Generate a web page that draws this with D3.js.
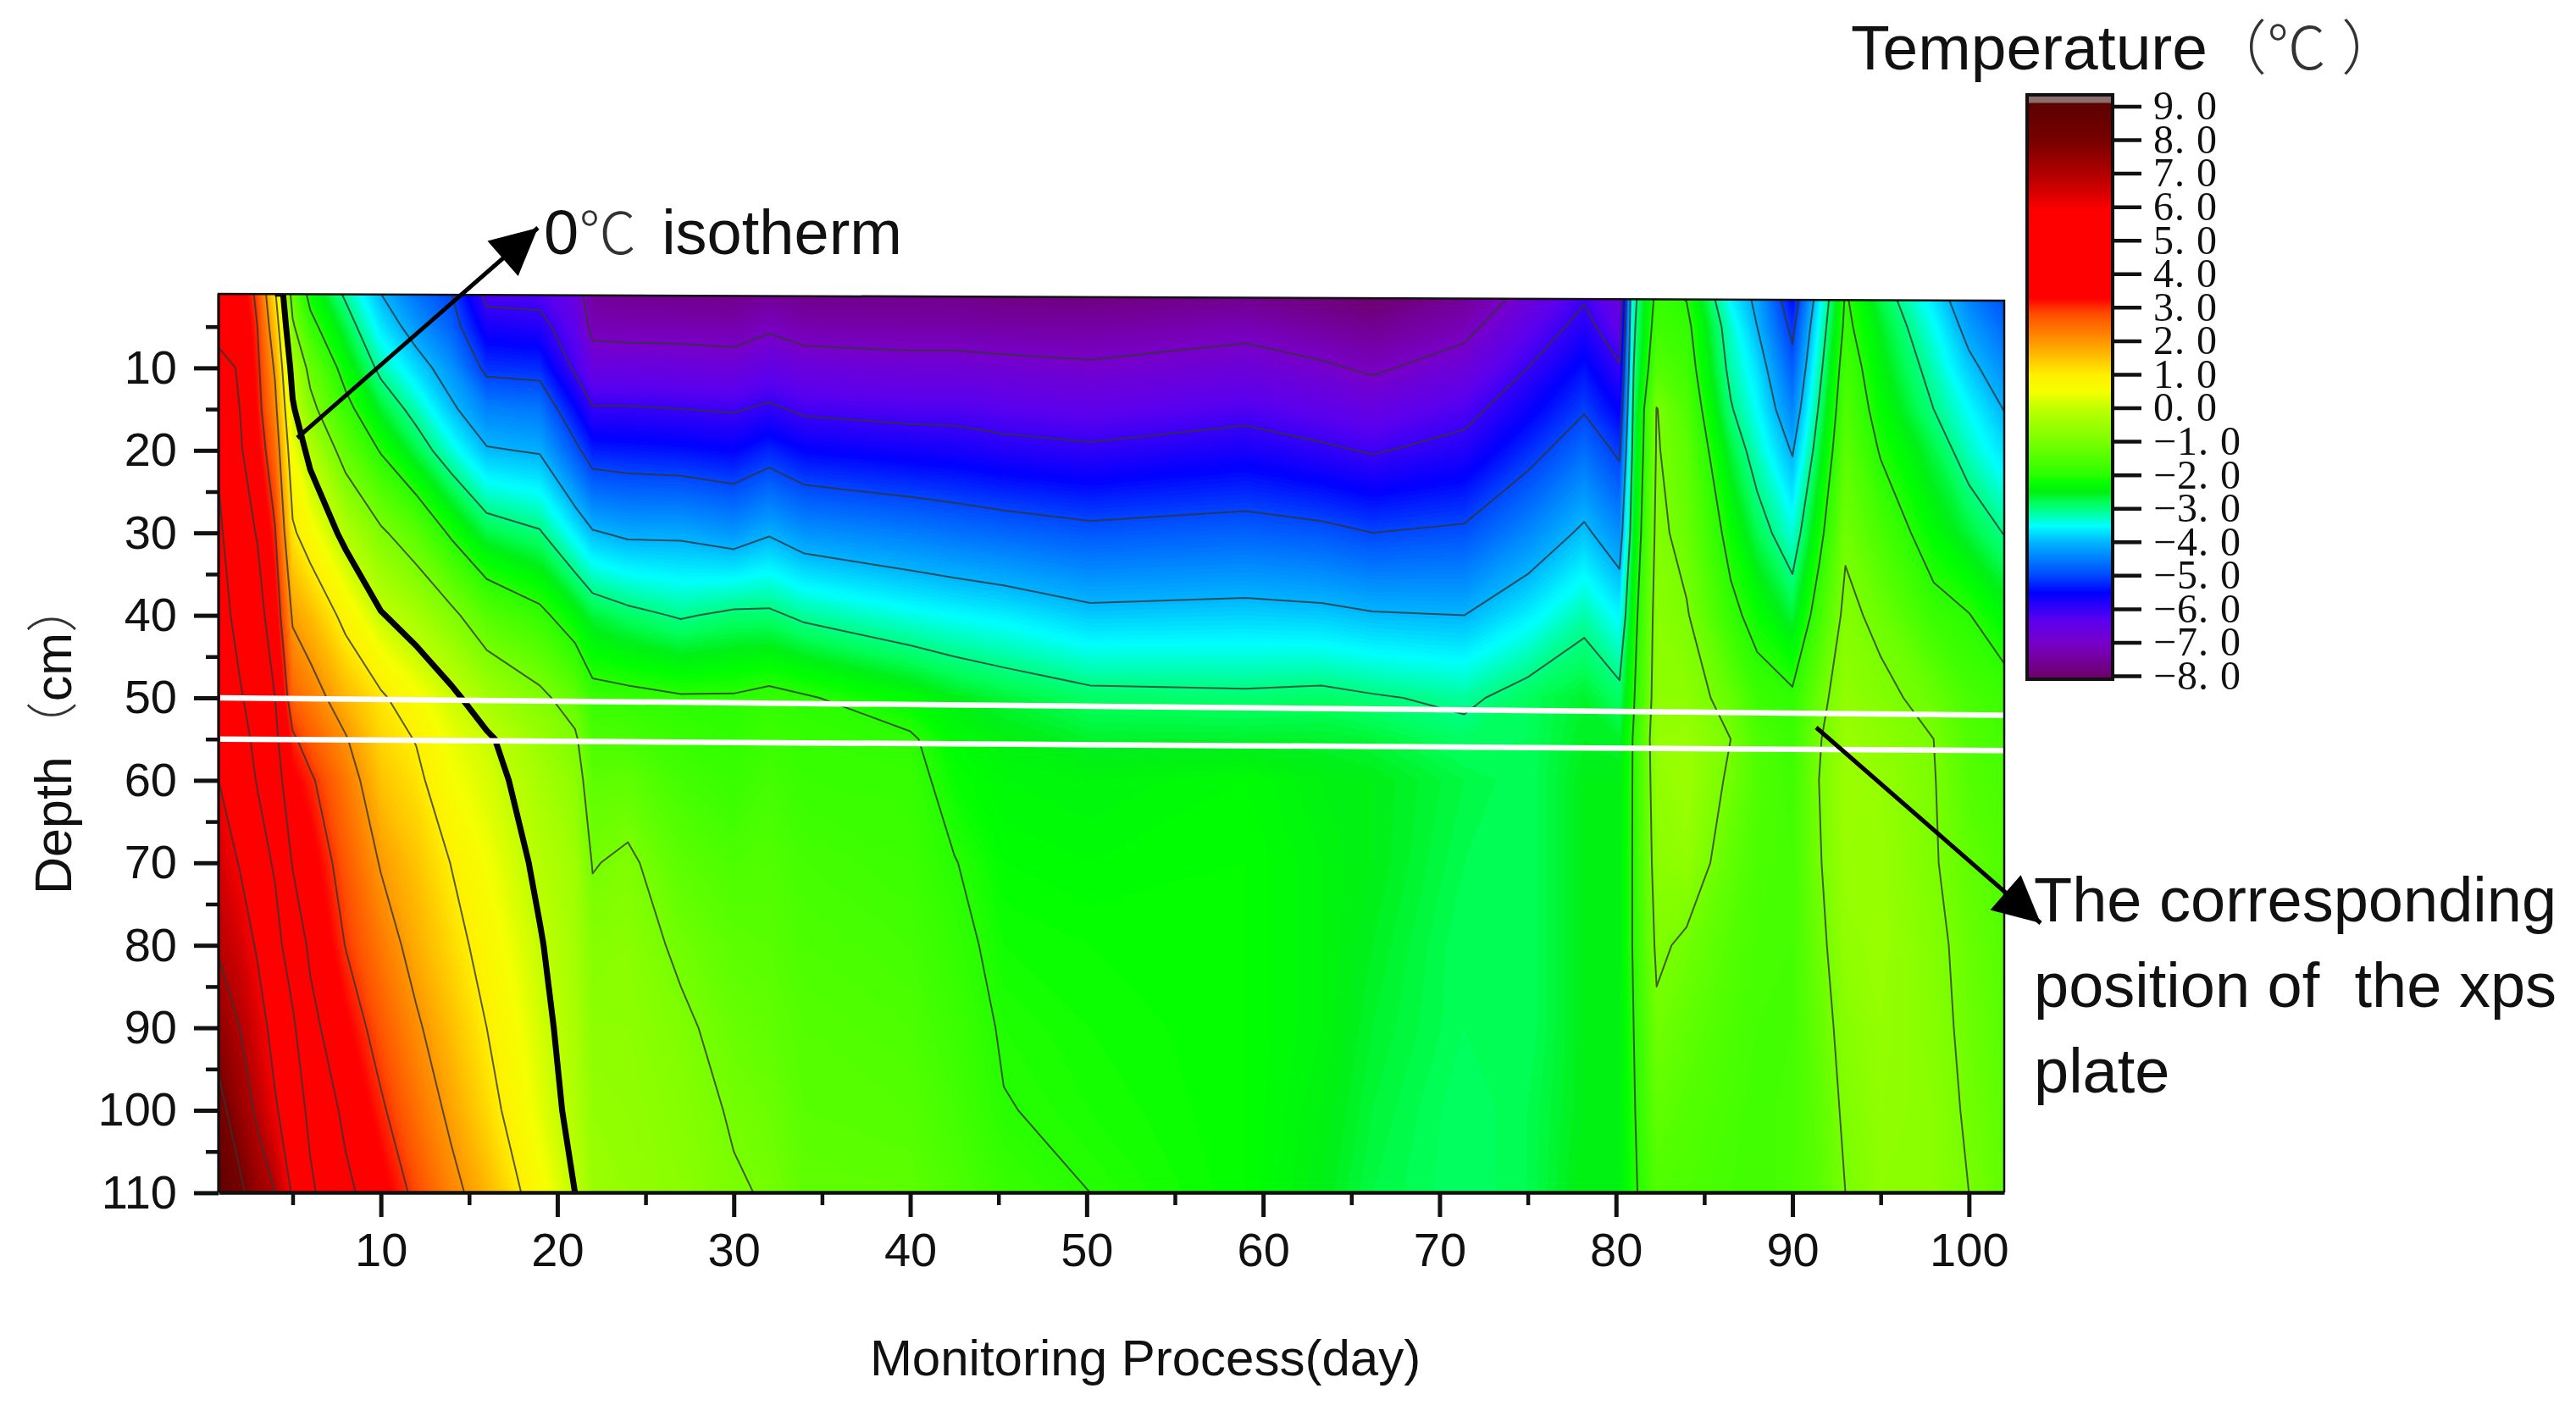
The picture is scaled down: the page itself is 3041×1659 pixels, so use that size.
<!DOCTYPE html>
<html><head><meta charset="utf-8">
<style>
html,body{margin:0;padding:0;background:#fff}
svg{display:block;filter:blur(0.7px)}
text{font-family:"Liberation Sans",Arial,sans-serif;fill:#111}
.cjk{font-family:"Noto Sans CJK SC";font-weight:300;fill:#333}
</style>
<script src="https://cdn.jsdelivr.net/npm/d3@7"></script>
</head><body>
<script>
// ---- data: temperature (deg C) at each depth, one list per monitoring day ----
const depths = [1,5,10,15,20,30,40,50,55,60,70,80,90,100,110];
const days = [0.8,2,3,4,5,6,8,10,12,14,16,19,21,22,24,27,30,32,34,40,42.5,45.3,50.2,59,63.3,66.2,71.4,75,78.2,80.2,81,82.3,84,86.5,88,90,91.5,93,95,98,100,102];
const d01 = [3.2,3.8,4.2,4.5,4.9,5.15,5.4,5.7,5.9,6.0,6.5,6.9,7.6,8.3,9.0];
const d02 = [3.6,3.85,3.95,4.0,4.1,4.4,4.7,5.1,5.3,5.5,5.95,6.5,7.0,7.5,8.2];
const d03 = [2.85,3.0,3.15,3.25,3.45,3.95,4.35,4.6,4.8,4.95,5.4,5.9,6.4,6.85,7.5];
const d04 = [1.1,1.5,1.9,2.2,2.5,3.05,3.5,4.0,4.2,4.4,4.9,5.3,5.7,6.1,7.0];
const d05 = [-1.3,-0.9,-0.3,0.1,0.5,1.1,1.9,2.6,3.1,3.4,3.95,4.55,5.15,5.5,5.9];
const d06 = [-2.2,-1.8,-1.2,-0.8,-0.2,0.65,1.6,2.3,2.7,3.1,3.5,3.85,4.25,4.8,5.15];
const d08 = [-3.1,-2.7,-2.25,-1.8,-1.3,-0.2,0.8,1.65,2.05,2.35,2.7,2.98,3.4,3.8,4.2];
const d10 = [-4.0,-3.65,-3.15,-2.6,-2.05,-0.9,0.05,1.1,1.3,1.5,1.95,2.35,2.72,3.1,3.5];
const d12 = [-4.6,-4.25,-3.75,-3.2,-2.7,-1.4,-0.35,0.6,0.97,1.15,1.5,1.75,2.1,2.45,2.85];
const d14 = [-5.0,-4.75,-4.3,-3.9,-3.35,-2.1,-0.85,0.15,0.4,0.55,0.98,1.25,1.55,1.85,2.2];
const d16 = [-6.2,-5.7,-5.15,-4.45,-3.95,-2.7,-1.45,-0.38,0.1,0.25,0.5,0.75,1.0,1.25,1.65];
const d19 = [-6.2,-5.8,-5.2,-4.55,-4.05,-2.95,-1.85,-0.85,-0.55,-0.35,-0.13,0.05,0.2,0.35,0.65];
const d21 = [-6.6,-6.4,-6.1,-5.45,-4.85,-3.6,-2.35,-1.3,-0.9,-0.7,-0.45,-0.4,-0.3,-0.2,0.0];
const d22 = [-7.5,-7.2,-6.6,-5.95,-5.3,-3.95,-2.65,-1.8,-1.55,-1.35,-1.03,-0.8,-0.7,-0.6,-0.5];
const d24 = [-7.6,-7.25,-6.6,-5.95,-5.35,-4.1,-2.85,-1.85,-1.6,-1.3,-0.9,-0.75,-0.7,-0.65,-0.6];
const d27 = [-7.7,-7.25,-6.65,-6.0,-5.4,-4.1,-3.05,-1.95,-1.8,-1.65,-1.35,-1.1,-0.9,-0.8,-0.75];
const d30 = [-7.7,-7.3,-6.7,-6.05,-5.5,-4.27,-2.9,-1.95,-1.9,-1.8,-1.55,-1.35,-1.2,-1.05,-0.95];
const d32 = [-7.55,-7.1,-6.5,-5.9,-5.25,-4.05,-2.9,-1.85,-1.75,-1.65,-1.5,-1.4,-1.3,-1.15,-1.04];
const d34 = [-7.7,-7.3,-6.65,-6.1,-5.5,-4.3,-3.1,-1.95,-1.85,-1.8,-1.65,-1.55,-1.45,-1.4,-1.3];
const d40 = [-7.7,-7.35,-6.75,-6.2,-5.65,-4.5,-3.4,-2.3,-1.93,-1.82,-1.75,-1.65,-1.55,-1.45,-1.35];
const d42 = [-7.7,-7.35,-6.75,-6.2,-5.7,-4.6,-3.5,-2.5,-2.3,-2.2,-1.98,-1.85,-1.75,-1.65,-1.55];
const d45 = [-7.8,-7.4,-6.8,-6.3,-5.8,-4.7,-3.6,-2.65,-2.45,-2.35,-2.25,-2.15,-2.05,-1.98,-1.8];
const d50 = [-7.85,-7.4,-6.9,-6.4,-5.9,-4.85,-3.85,-2.85,-2.6,-2.4,-2.3,-2.2,-2.15,-2.1,-2.0];
const d59 = [-7.7,-7.2,-6.7,-6.2,-5.7,-4.75,-3.8,-2.9,-2.6,-2.3,-2.25,-2.25,-2.25,-2.25,-2.25];
const d63 = [-7.9,-7.45,-6.9,-6.4,-5.9,-4.85,-3.85,-2.85,-2.6,-2.45,-2.4,-2.4,-2.4,-2.45,-2.5];
const d66 = [-8.1,-7.6,-7.1,-6.55,-6.05,-5.0,-3.95,-2.95,-2.65,-2.5,-2.5,-2.55,-2.6,-2.65,-2.7];
const d71 = [-7.6,-7.2,-6.7,-6.2,-5.8,-4.9,-4.0,-3.1,-2.85,-2.7,-2.75,-2.8,-2.8,-2.85,-2.85];
const d75 = [-6.8,-6.4,-6.0,-5.6,-5.2,-4.4,-3.6,-2.8,-2.8,-2.8,-2.8,-2.8,-2.8,-2.75,-2.75];
const d78 = [-6.1,-5.8,-5.4,-5.05,-4.65,-3.9,-3.15,-2.6,-2.55,-2.5,-2.5,-2.5,-2.5,-2.5,-2.45];
const d80 = [-6.7,-6.4,-5.95,-5.55,-5.1,-4.35,-3.55,-2.85,-2.6,-2.5,-2.45,-2.45,-2.45,-2.45,-2.45];
const d81 = [-3.2,-3.1,-3.0,-2.85,-2.75,-2.55,-2.25,-2.05,-1.95,-1.95,-1.95,-1.95,-2.0,-2.05,-2.1];
const d82 = [-1.85,-1.7,-1.45,-0.98,-0.95,-0.85,-0.75,-0.7,-0.6,-0.65,-0.75,-0.9,-1.1,-1.3,-1.5];
const d84 = [-2.05,-1.85,-1.7,-1.5,-1.35,-1.2,-0.95,-0.7,-0.55,-0.5,-0.65,-1.1,-1.3,-1.45,-1.55];
const d86 = [-3.6,-3.3,-3.15,-2.95,-2.65,-2.2,-1.85,-1.25,-1.0,-1.1,-1.3,-1.45,-1.55,-1.6,-1.65];
const d88 = [-4.15,-4.0,-3.7,-3.5,-3.25,-2.75,-2.2,-1.75,-1.55,-1.5,-1.55,-1.6,-1.65,-1.7,-1.7];
const d90 = [-5.5,-5.15,-4.8,-4.45,-4.05,-3.35,-2.65,-1.9,-1.75,-1.7,-1.65,-1.65,-1.65,-1.6,-1.6];
const d91 = [-3.7,-3.45,-3.2,-2.95,-2.7,-2.2,-1.7,-1.2,-1.05,-1.0,-1.05,-1.15,-1.25,-1.35,-1.4];
const d93 = [-1.95,-1.85,-1.65,-1.5,-1.35,-1.1,-0.85,-0.65,-0.55,-0.5,-0.55,-0.65,-0.8,-0.9,-1.0];
const d95 = [-2.75,-2.55,-2.4,-2.25,-2.05,-1.6,-1.15,-0.85,-0.7,-0.6,-0.55,-0.55,-0.6,-0.65,-0.7];
const d98 = [-3.7,-3.45,-3.2,-3.0,-2.7,-2.3,-1.8,-1.2,-1.0,-0.97,-0.95,-0.85,-0.8,-0.75,-0.75];
const d100 = [-4.5,-4.2,-3.85,-3.5,-3.25,-2.65,-1.98,-1.6,-1.5,-1.45,-1.3,-1.2,-1.15,-1.08,-1.0];
const d102 = [-4.95,-4.7,-4.35,-4.02,-3.7,-3.02,-2.35,-1.75,-1.65,-1.6,-1.5,-1.45,-1.4,-1.35,-1.3];
const columns = [d01,d02,d03,d04,d05,d06,d08,d10,d12,d14,d16,d19,d21,d22,d24,d27,d30,d32,d34,d40,d42,d45,d50,d59,d63,d66,d71,d75,d78,d80,d81,d82,d84,d86,d88,d90,d91,d93,d95,d98,d100,d102];

const contourLevels = [8,7,6,5,4,3,2,1,-1,-2,-3,-4,-5,-6,-7];
const isothermLevel = 0;
const xMajor = [10,20,30,40,50,60,70,80,90,100];
const xMinor = [5,15,25,35,45,55,65,75,85,95];
const yMajor = [10,20,30,40,50,60,70,80,90,100,110];
const yMinor = [5,15,25,35,45,55,65,75,85,95,105];
const legendTicks = [9,8,7,6,5,4,3,2,1,0,-1,-2,-3,-4,-5,-6,-7,-8];
const plateUpper = [50,52.1];   // depth of the upper white line, left and right ends
const plateLower = [55,56.4];   // depth of the lower white line, left and right ends

// colour map
const colorTemps = [-8,-7,-6.3,-5.5,-5,-4,-3.5,-3,-2.8,-2.5,-2.25,-2,-1,0,0.5,1,2,2.8,3.3,5.9,6.8,8,9];
const colorValues = ["#6e006e","#7800c8","#5a00f0","#0000ff","#0046ff","#00b4ff","#00ffff","#00ff82","#00ff5a","#00f014","#00ff00","#28ff00","#78ff00","#beff00","#f5ff00","#fff000","#ff9600","#ff5000","#ff0000","#ff0000","#be0000","#780000","#5f0000"];

// ---- layout ----
const W = 3041, H = 1659;
const plot = {left:258, right:2366, bottom:1408, topL:347, topR:355};
const x = d3.scaleLinear().domain([0.8,102]).range([plot.left,plot.right]);
const y = d3.scaleLinear().domain([10,110]).range([434.4,1408.4]);
const color = d3.scaleLinear().domain(colorTemps).range(colorValues).clamp(true);

const svg = d3.select("body").append("svg").attr("width",W).attr("height",H).attr("viewBox",[0,0,W,H]);
svg.append("rect").attr("width",W).attr("height",H).attr("fill","#fff");

svg.append("clipPath").attr("id","plotClip").append("polygon")
  .attr("points",[[plot.left,plot.topL],[plot.right,plot.topR],[plot.right,plot.bottom],[plot.left,plot.bottom]].join(" "));

// ---- contouring ----
const nx = days.length, ny = depths.length;
const grid = new Array(nx*ny);
columns.forEach((col,i)=>col.forEach((v,j)=>{grid[i+j*nx]=v;}));
const idx2day = d3.scaleLinear().domain(d3.range(nx)).range(days).clamp(true);
const idx2depth = d3.scaleLinear().domain(d3.range(ny)).range(depths).clamp(true);
const px = c => x(idx2day(c-0.5));
const py = c => y(idx2depth(c-0.5));
const geoPath = d3.geoPath(d3.geoTransform({point(a,b){this.stream.point(px(a),py(b));}}));

const bandStep = 0.05;
const bands = d3.range(-9,10,bandStep);
const contourGen = d3.contours().size([nx,ny]).smooth(true);
const plotG = svg.append("g").attr("clip-path","url(#plotClip)");
plotG.selectAll("path.band").data(contourGen.thresholds(bands)(grid)).join("path")
  .attr("class","band").attr("d",geoPath)
  .attr("fill",d=>color(d.value+bandStep/2));

function linePath(contour){
  const onEdge = p => p[0]<=0||p[0]>=nx||p[1]<=0||p[1]>=ny;
  let s="";
  contour.coordinates.forEach(poly=>poly.forEach(ring=>{
    let open=false;
    for(let i=0;i<ring.length;i++){
      const p=ring[i], prev=ring[i-1];
      const draw = i>0 && !(onEdge(p)&&onEdge(prev));
      if(draw){ s+=(open?"L":"M"+px(prev[0])+","+py(prev[1])+"L")+px(p[0])+","+py(p[1]); open=true; }
      else open=false;
    }
  }));
  return s;
}
plotG.selectAll("path.iso").data(contourGen.thresholds(contourLevels)(grid)).join("path")
  .attr("class","iso").attr("d",linePath).attr("fill","none")
  .attr("stroke","#333").attr("stroke-opacity",0.8).attr("stroke-width",2).attr("stroke-linejoin","round");
plotG.selectAll("path.zero").data(contourGen.thresholds([isothermLevel])(grid)).join("path")
  .attr("class","zero").attr("d",linePath).attr("fill","none")
  .attr("stroke","#000").attr("stroke-width",7).attr("stroke-linejoin","round");

// plate position (white lines)
[plateUpper,plateLower].forEach(p=>{
  svg.append("line").attr("x1",plot.left+2).attr("x2",plot.right-1)
    .attr("y1",y(p[0])).attr("y2",y(p[1])).attr("stroke","#fff").attr("stroke-width",6.5);
});

// frame
svg.append("path").attr("fill","none").attr("stroke","#111").attr("stroke-width",2.5)
  .attr("d",`M${plot.left},${plot.bottom}L${plot.left},${plot.topL}L${plot.right},${plot.topR}L${plot.right},${plot.bottom}`);

// ---- axes ----
function styleAxis(g){ g.select(".domain").attr("stroke","#111").attr("stroke-width",4.5); g.selectAll("text").attr("font-size",56).attr("fill","#111"); }
const gx = svg.append("g").attr("transform",`translate(0,${plot.bottom})`);
gx.append("g").call(d3.axisBottom(x).tickValues(xMinor).tickSize(15).tickFormat(""))
  .call(g=>{g.select(".domain").remove();g.selectAll("line").attr("stroke","#111").attr("stroke-width",4.5);});
gx.append("g").call(d3.axisBottom(x).tickValues(xMajor).tickSize(29).tickPadding(18).tickFormat(d3.format("d")).tickSizeOuter(0))
  .call(styleAxis).call(g=>g.selectAll("line").attr("stroke","#111").attr("stroke-width",5));
const gy = svg.append("g").attr("transform",`translate(${plot.left},0)`);
gy.append("g").call(d3.axisLeft(y).tickValues(yMinor).tickSize(15).tickFormat(""))
  .call(g=>{g.select(".domain").remove();g.selectAll("line").attr("stroke","#111").attr("stroke-width",4.5);});
gy.append("g").call(d3.axisLeft(y).tickValues(yMajor).tickSize(29).tickPadding(20).tickFormat(d3.format("d")).tickSizeOuter(0))
  .call(styleAxis).call(g=>{g.select(".domain").remove();g.selectAll("line").attr("stroke","#111").attr("stroke-width",5);});
gy.append("line").attr("y1",plot.topL).attr("y2",plot.bottom).attr("stroke","#111").attr("stroke-width",3);

svg.append("text").attr("x",1352).attr("y",1624).attr("text-anchor","middle").attr("font-size",60).text("Monitoring Process(day)");
const yt = svg.append("text").attr("transform","translate(84,1056) rotate(-90)").attr("font-size",61);
yt.append("tspan").text("Depth");
yt.append("tspan").attr("class","cjk").attr("dx",4).text("（");
yt.append("tspan").text("cm");
yt.append("tspan").attr("class","cjk").text("）");

// ---- legend ----
const lg = {x0:2393,x1:2494,top:112,bottom:802};
const ly = d3.scaleLinear().domain([9,-8]).range([125.5,798]);
const legendG = svg.append("g");
legendG.append("rect").attr("x",lg.x0).attr("y",lg.top).attr("width",lg.x1-lg.x0).attr("height",lg.bottom-lg.top).attr("fill","#8a6e6e");
legendG.selectAll("rect.s").data(d3.range(9.1,-8.1,-0.05)).join("rect").attr("class","s")
  .attr("x",lg.x0).attr("width",lg.x1-lg.x0).attr("y",d=>ly(d)).attr("height",3.2).attr("fill",d=>color(d));
legendG.append("rect").attr("x",lg.x0).attr("y",lg.top).attr("width",lg.x1-lg.x0).attr("height",lg.bottom-lg.top).attr("fill","none").attr("stroke","#111").attr("stroke-width",4);
const lgAxis = legendG.append("g").attr("transform",`translate(${lg.x1},0)`)
  .call(d3.axisRight(ly).tickValues(legendTicks).tickSize(34).tickPadding(14).tickFormat(d=>(d<0?"−":"")+Math.abs(d)+". 0").tickSizeOuter(0));
lgAxis.select(".domain").remove();
lgAxis.selectAll("line").attr("stroke","#111").attr("stroke-width",4.5);
lgAxis.selectAll("text").attr("font-size",48).attr("letter-spacing",1).attr("dy","0.32em").style("font-family","'Liberation Serif'").attr("fill","#222");

const title = svg.append("text").attr("x",2185).attr("y",82).attr("font-size",75);
title.append("tspan").text("Temperature");
title.append("tspan").attr("class","cjk").attr("font-size",70).text("（℃");
title.append("tspan").attr("class","cjk").attr("font-size",70).attr("dx",18).text("）");

// ---- annotations ----
svg.append("defs").append("marker").attr("id","head").attr("viewBox","0 0 10 10").attr("refX",10).attr("refY",5)
  .attr("markerWidth",13).attr("markerHeight",11).attr("markerUnits","strokeWidth").attr("orient","auto")
  .append("path").attr("d","M0,0L10,5L0,10Z").attr("fill","#000");
const arrows = [[351,517,635,269],[2144,859,2409,1090]];
svg.selectAll("line.arrow").data(arrows).join("line").attr("class","arrow")
  .attr("x1",d=>d[0]).attr("y1",d=>d[1]).attr("x2",d=>d[2]).attr("y2",d=>d[3])
  .attr("stroke","#000").attr("stroke-width",5).attr("marker-end","url(#head)");

const iso = svg.append("text").attr("x",642).attr("y",300).attr("font-size",74);
iso.append("tspan").text("0");
iso.append("tspan").attr("class","cjk").attr("font-size",68).text("℃");
iso.append("tspan").attr("dx",30).text("isotherm");
const noteLines = ["The corresponding","position of  the xps","plate"];
svg.selectAll("text.note").data(noteLines).join("text").attr("class","note")
  .attr("x",2401).attr("y",(d,i)=>1088+i*101).attr("font-size",74).style("white-space","pre").text(d=>d);
</script>
</body></html>
